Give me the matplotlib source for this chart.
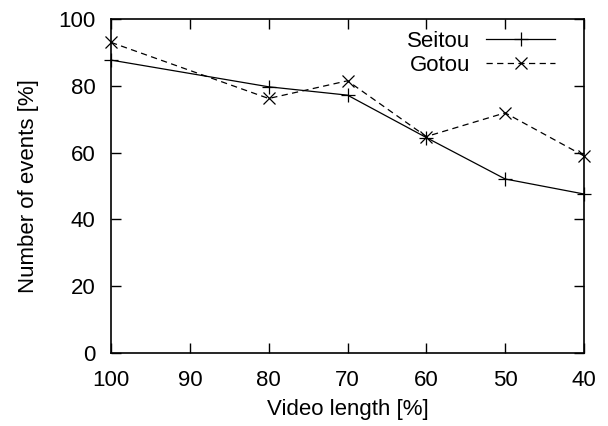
import numpy as np
import matplotlib
matplotlib.use('Agg')
import matplotlib.pyplot as plt

plt.rcParams['font.family'] = ['Liberation Sans', 'DejaVu Sans']

video_length = [100, 80, 70, 60, 50, 40]
seitou = [87.7, 79.7, 77.2, 64.5, 52.1, 47.6]
gotou = [93.0, 76.2, 81.5, 64.8, 71.9, 59.0]

fig = plt.figure(figsize=(6.08, 4.26), dpi=100)
ax = fig.add_axes([0.1826, 0.1714, 0.7779, 0.784])

ax.plot(video_length, seitou, color='black', lw=0.9, marker='+', ms=10, mew=0.9,
        label='Seitou', clip_on=False)
ax.plot(video_length, gotou, color='black', lw=0.9, ls=(0, (5, 3.5)), marker='x',
        ms=9, mew=0.9, label='Gotou', clip_on=False)

ax.set_xlim(100, 40)
ax.set_ylim(0, 100)
ax.set_xticks(np.arange(100, 39, -10))
ax.set_yticks(np.arange(0, 101, 20))
ax.tick_params(direction='in', length=7, width=1, top=True, right=True,
               labelsize=16)
ax.tick_params(axis='x', pad=12)
ax.tick_params(axis='y', pad=11)
for s in ax.spines.values():
    s.set_linewidth(1.2)

ax.set_xlabel('Video length [%]', fontsize=16, labelpad=6)
ax.set_ylabel('Number of events [%]', fontsize=16, labelpad=14)

ax.legend(loc='upper right', bbox_to_anchor=(0.939, 0.965), frameon=False,
          markerfirst=False, fontsize=16, handlelength=3.1, handletextpad=0.72,
          labelspacing=0.15, borderpad=0, borderaxespad=0)

fig.savefig('out.png', dpi=100)
